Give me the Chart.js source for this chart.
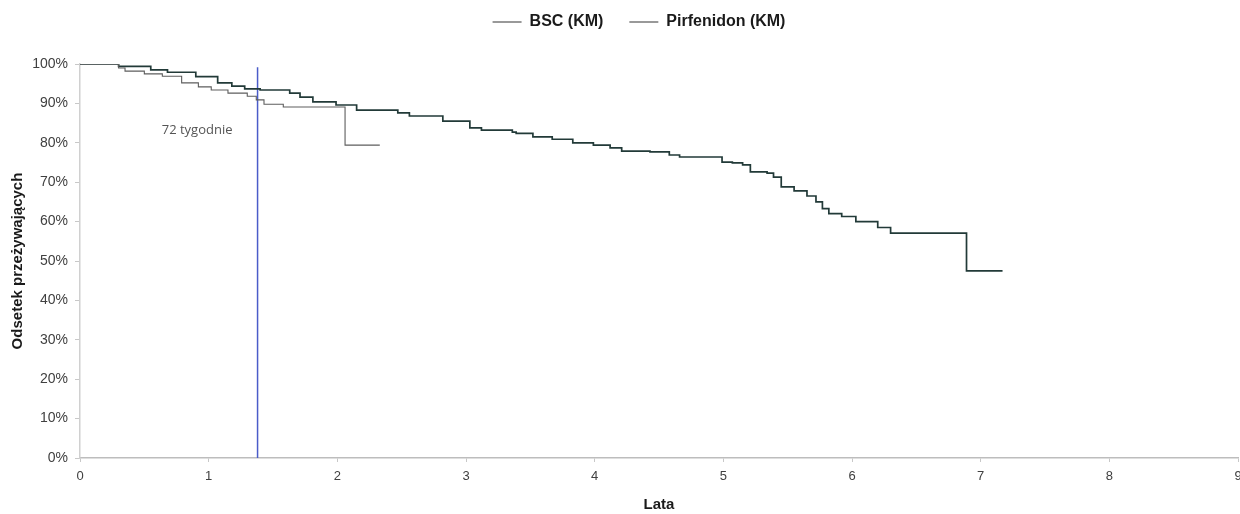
<!DOCTYPE html>
<html>
<head>
<meta charset="utf-8">
<script src="https://cdn.jsdelivr.net/npm/chart.js@4/dist/chart.umd.min.js"></script>
<style>
html,body{margin:0;padding:0;background:#fff;}
#wrap{width:1240px;height:514px;position:relative;}
</style>
</head>
<body>
<div id="wrap"><canvas id="c" width="1240" height="514"></canvas></div>
<script>
// ---- data ----
const seriesNames = ['BSC (KM)', 'Pirfenidon (KM)'];
const bscTimes    = [0, 0.30, 0.35, 0.50, 0.64, 0.79, 0.92, 1.02, 1.15, 1.30, 1.37, 1.43, 1.58, 2.06, 2.33];
const bscSurvival = [100, 99.0, 98.2, 97.5, 96.9, 95.2, 94.2, 93.4, 92.6, 91.8, 90.9, 89.8, 89.1, 79.4, 79.4];
const pirfTimes    = [0, 0.30, 0.55, 0.68, 0.90, 1.07, 1.18, 1.28, 1.40, 1.63, 1.71, 1.81, 1.99, 2.15, 2.47, 2.56, 2.82, 3.03, 3.12, 3.36, 3.39, 3.52, 3.67, 3.83, 3.99, 4.12, 4.21, 4.43, 4.58, 4.66, 4.99, 5.07, 5.15, 5.21, 5.34, 5.39, 5.45, 5.55, 5.65, 5.72, 5.77, 5.82, 5.92, 6.03, 6.20, 6.30, 6.89, 7.17];
const pirfSurvival = [100, 99.4, 98.5, 97.9, 96.8, 95.2, 94.4, 93.7, 93.4, 92.6, 91.6, 90.4, 89.6, 88.3, 87.6, 86.8, 85.5, 83.8, 83.2, 82.7, 82.4, 81.5, 80.9, 80.0, 79.4, 78.7, 77.9, 77.7, 76.9, 76.4, 75.1, 74.9, 74.4, 72.6, 72.3, 71.3, 68.8, 67.8, 66.5, 65.0, 63.3, 62.0, 61.3, 60.0, 58.5, 57.1, 47.5, 47.5];
const markerTime = 1.38;          // 72 weeks in years
const markerLineRange = [0, 99.2];
const markerLabel = '72 tygodnie';
const markerLabelPos = [0.91, 83.2];
const xTickLabels = ['0','1','2','3','4','5','6','7','8','9'];
const yTickLabels = ['0%','10%','20%','30%','40%','50%','60%','70%','80%','90%','100%'];
const xTitle = 'Lata';
const yTitle = 'Odsetek przeżywających';

const toPts = (xs, ys) => xs.map((x, i) => ({x: x, y: ys[i]}));

const FONT = '"Liberation Sans", Arial, sans-serif';

const labelPlugin = {
  id: 'markerLabel',
  afterDatasetsDraw(chart) {
    const {ctx, scales} = chart;
    const x = scales.x.getPixelForValue(markerLabelPos[0]);
    const y = scales.y.getPixelForValue(markerLabelPos[1]);
    ctx.save();
    ctx.font = '13px "Open Sans", "Liberation Sans", sans-serif';
    ctx.fillStyle = '#555';
    ctx.textAlign = 'center';
    ctx.textBaseline = 'middle';
    ctx.fillText(markerLabel, x, y);
    ctx.restore();
  }
};

const legendGap = {
  id: 'legendGap',
  beforeInit(chart) {
    const origFit = chart.legend.fit;
    chart.legend.fit = function () {
      origFit.call(this);
      this.height = 76;
    };
  },
  afterLayout(chart) {
    chart.legend.left += 18;
    chart.legend.right += 18;
  }
};

new Chart(document.getElementById('c'), {
  type: 'line',
  data: {
    datasets: [
      {
        label: seriesNames[0],
        data: toPts(bscTimes, bscSurvival),
        borderColor: '#5e5e5e',
        borderWidth: 1.1,
        stepped: 'before',
        pointRadius: 0,
        fill: false
      },
      {
        label: seriesNames[1],
        data: toPts(pirfTimes, pirfSurvival),
        borderColor: '#223a38',
        borderWidth: 1.7,
        stepped: 'before',
        pointRadius: 0,
        fill: false
      },
      {
        label: 'marker',
        data: [{x: markerTime, y: markerLineRange[0]}, {x: markerTime, y: markerLineRange[1]}],
        borderColor: '#4a5cc9',
        borderWidth: 1.5,
        pointRadius: 0,
        fill: false
      }
    ]
  },
  options: {
    responsive: false,
    animation: false,
    devicePixelRatio: 1,
    layout: { padding: { top: -12, right: 2, left: 4, bottom: 0 } },
    plugins: {
      tooltip: { enabled: false },
      legend: {
        display: true,
        position: 'top',
        labels: {
          filter: (item) => item.datasetIndex < 2,
          generateLabels: (chart) => Chart.defaults.plugins.legend.labels.generateLabels(chart).map(l => Object.assign(l, {lineWidth: 1.2, strokeStyle: '#555'})),
          usePointStyle: true,
          pointStyle: 'line',
          pointStyleWidth: 29,
          boxWidth: 29,
          padding: 26,
          color: '#1a1a1a',
          font: { family: FONT, size: 16, weight: 'bold' }
        }
      }
    },
    scales: {
      x: {
        type: 'linear',
        min: 0, max: 9,
        ticks: {
          stepSize: 1,
          color: '#404040',
          font: { family: FONT, size: 13 },
          padding: 7,
          maxRotation: 0,
          callback: (v) => xTickLabels[Math.round(v)] ?? ''
        },
        grid: { drawOnChartArea: false, drawTicks: true, tickLength: 4, color: '#c8c8c8' },
        border: { color: '#bdbdbd', width: 1.5 },
        title: { display: true, text: xTitle, color: '#1a1a1a', font: { family: FONT, size: 15, weight: 'bold' }, padding: { top: 8, bottom: 0 } },
        afterFit: (s) => { s.height = 56; s.paddingRight = 0; }
      },
      y: {
        type: 'linear',
        min: 0, max: 100,
        ticks: {
          stepSize: 10,
          color: '#404040',
          font: { family: FONT, size: 14 },
          padding: 7,
          callback: (v) => yTickLabels[Math.round(v / 10)] ?? ''
        },
        grid: { drawOnChartArea: false, drawTicks: true, tickLength: 5, color: '#c8c8c8' },
        border: { color: '#d0d0d0', width: 1.5 },
        title: { display: true, text: yTitle, color: '#1a1a1a', font: { family: FONT, size: 15, weight: 'bold' }, padding: { top: 5, bottom: 0 } },
        afterFit: (s) => { s.width = 76; }
      }
    }
  },
  plugins: [labelPlugin, legendGap]
});
</script>
</body>
</html>
